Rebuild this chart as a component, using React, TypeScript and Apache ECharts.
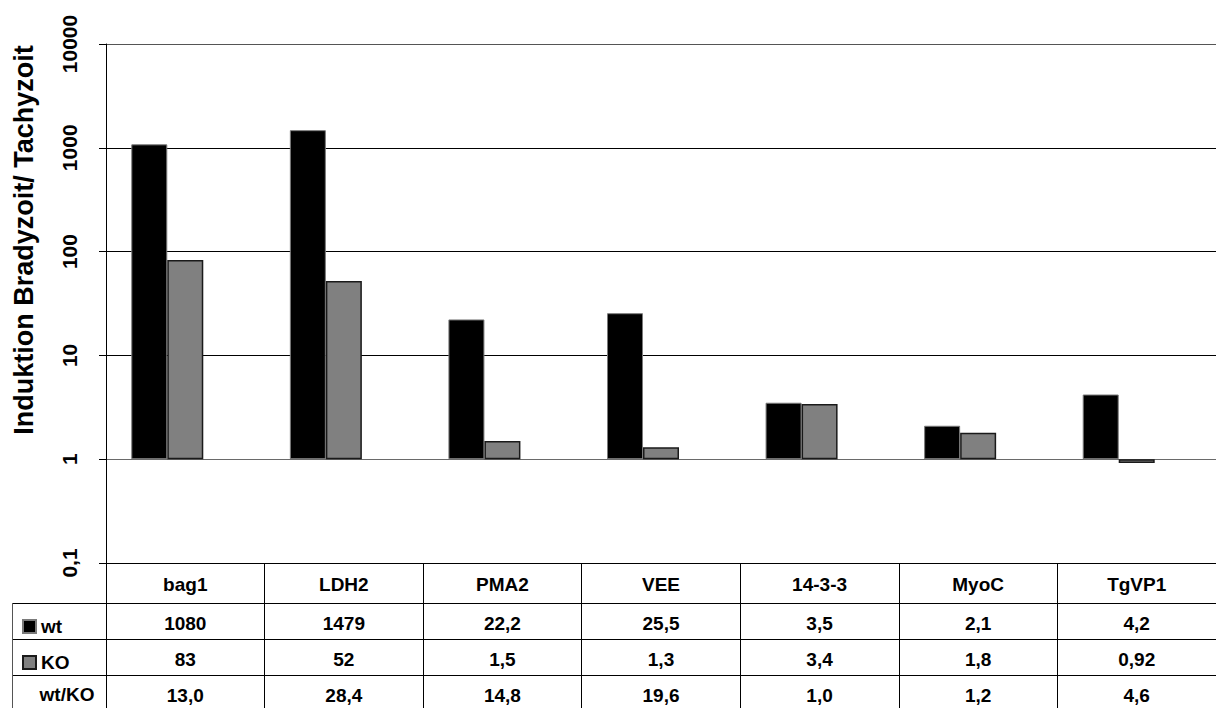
import React, { useEffect, useRef } from "react";
import * as echarts from "echarts";

// Gene expression induction (bradyzoite vs. tachyzoite), wild type and knock-out
const categories = ["bag1", "LDH2", "PMA2", "VEE", "14-3-3", "MyoC", "TgVP1"];
const wtValues = [1080, 1479, 22.2, 25.5, 3.5, 2.1, 4.2];
const koValues = [83, 52, 1.5, 1.3, 3.4, 1.8, 0.92];
const ratioValues = [13.0, 28.4, 14.8, 19.6, 1.0, 1.2, 4.6];

const FONT = "Liberation Sans, Arial, sans-serif";

const fmt = (v: number) => String(v).replace(".", ",");
const fmtRatio = (v: number) => v.toFixed(1).replace(".", ",");

export default function App() {
  const ref = useRef<HTMLDivElement>(null);

  useEffect(() => {
    if (!ref.current) return;
    const chart = echarts.init(ref.current, undefined, { renderer: "svg" });

    const tableRow = (data: string[], margin: number) => ({
      type: "category" as const,
      gridIndex: 0,
      position: "bottom" as const,
      data,
      axisLine: { show: false },
      axisTick: { show: false },
      splitLine: { show: false },
      axisLabel: {
        interval: 0,
        margin,
        color: "#000",
        fontFamily: FONT,
        fontWeight: "bold" as const,
        fontSize: 19,
      },
    });

    const hLine = (y: number, x1: number, x2: number) => ({
      type: "line" as const,
      silent: true,
      shape: { x1, y1: y + 0.5, x2, y2: y + 0.5 },
      style: { stroke: "#000", lineWidth: 1 },
    });

    chart.setOption({
      animation: false,
      backgroundColor: "#fff",
      grid: { left: 106, top: 44, width: 1115, height: 519 },
      legend: {
        data: ["wt", "KO"],
        orient: "vertical",
        left: 17,
        top: 611,
        itemWidth: 13,
        itemHeight: 13,
        itemGap: 15,
        icon: "rect",
        selectedMode: false,
        textStyle: {
          color: "#000",
          fontFamily: FONT,
          fontWeight: "bold",
          fontSize: 19,
          lineHeight: 21,
        },
      },
      xAxis: [
        {
          type: "category",
          position: "bottom",
          data: categories,
          axisLine: { show: true, lineStyle: { color: "#000", width: 1 } },
          axisTick: {
            show: true,
            length: 150,
            interval: 0,
            lineStyle: { color: "#000", width: 1 },
          },
          axisLabel: {
            interval: 0,
            margin: 12,
            color: "#000",
            fontFamily: FONT,
            fontWeight: "bold",
            fontSize: 19,
          },
        },
        tableRow(wtValues.map(fmt), 51),
        tableRow(koValues.map(fmt), 87),
        tableRow(ratioValues.map(fmtRatio), 123),
      ],
      yAxis: {
        type: "log",
        logBase: 10,
        min: 0.1,
        max: 10000,
        axisLine: { show: true, lineStyle: { color: "#000", width: 1 } },
        axisTick: { show: true, length: 7, lineStyle: { color: "#000" } },
        splitLine: {
          show: true,
          lineStyle: {
            color: ["#000", "#6a6a6a", "#000", "#000", "#000", "#555"],
            width: 1,
          },
        },
        axisLabel: {
          rotate: 90,
          margin: 26,
          color: "#000",
          fontFamily: FONT,
          fontWeight: "bold",
          fontSize: 21,
          formatter: (v: number) => fmt(Number(v.toPrecision(6))),
        },
      },
      series: [
        {
          name: "wt",
          type: "bar",
          data: wtValues,
          barWidth: 36,
          barGap: "0%",
          itemStyle: { color: "#000", borderColor: "#7a7a7a", borderWidth: 1 },
        },
        {
          name: "KO",
          type: "bar",
          data: koValues,
          barWidth: 36,
          barGap: "0%",
          itemStyle: { color: "#808080", borderColor: "#1a1a1a", borderWidth: 1.5 },
        },
        {
          // empty slot that keeps the bar pair left of the column centre
          name: "pad",
          type: "bar",
          data: categories.map(() => null),
          barWidth: 36,
          barGap: "0%",
          silent: true,
        },
      ],
      graphic: [
        {
          type: "text",
          silent: true,
          x: 24,
          y: 240,
          rotation: Math.PI / 2,
          style: {
            text: "Induktion Bradyzoit/ Tachyzoit",
            fill: "#000",
            font: `bold 27px ${FONT}`,
            align: "center",
            verticalAlign: "middle",
          },
        },
        {
          type: "text",
          silent: true,
          x: 67,
          y: 694,
          style: {
            text: "wt/KO",
            fill: "#000",
            font: `bold 19px ${FONT}`,
            align: "center",
            verticalAlign: "middle",
          },
        },
        hLine(603, 12, 1216),
        hLine(639, 12, 1216),
        hLine(675, 12, 1216),
        {
          type: "line",
          silent: true,
          shape: { x1: 12.5, y1: 603, x2: 12.5, y2: 708 },
          style: { stroke: "#555", lineWidth: 1 },
        },
      ],
    });

    return () => chart.dispose();
  }, []);

  return (
    <div
      ref={ref}
      style={{ position: "fixed", left: 0, top: 0, width: 1216, height: 708 }}
    />
  );
}
